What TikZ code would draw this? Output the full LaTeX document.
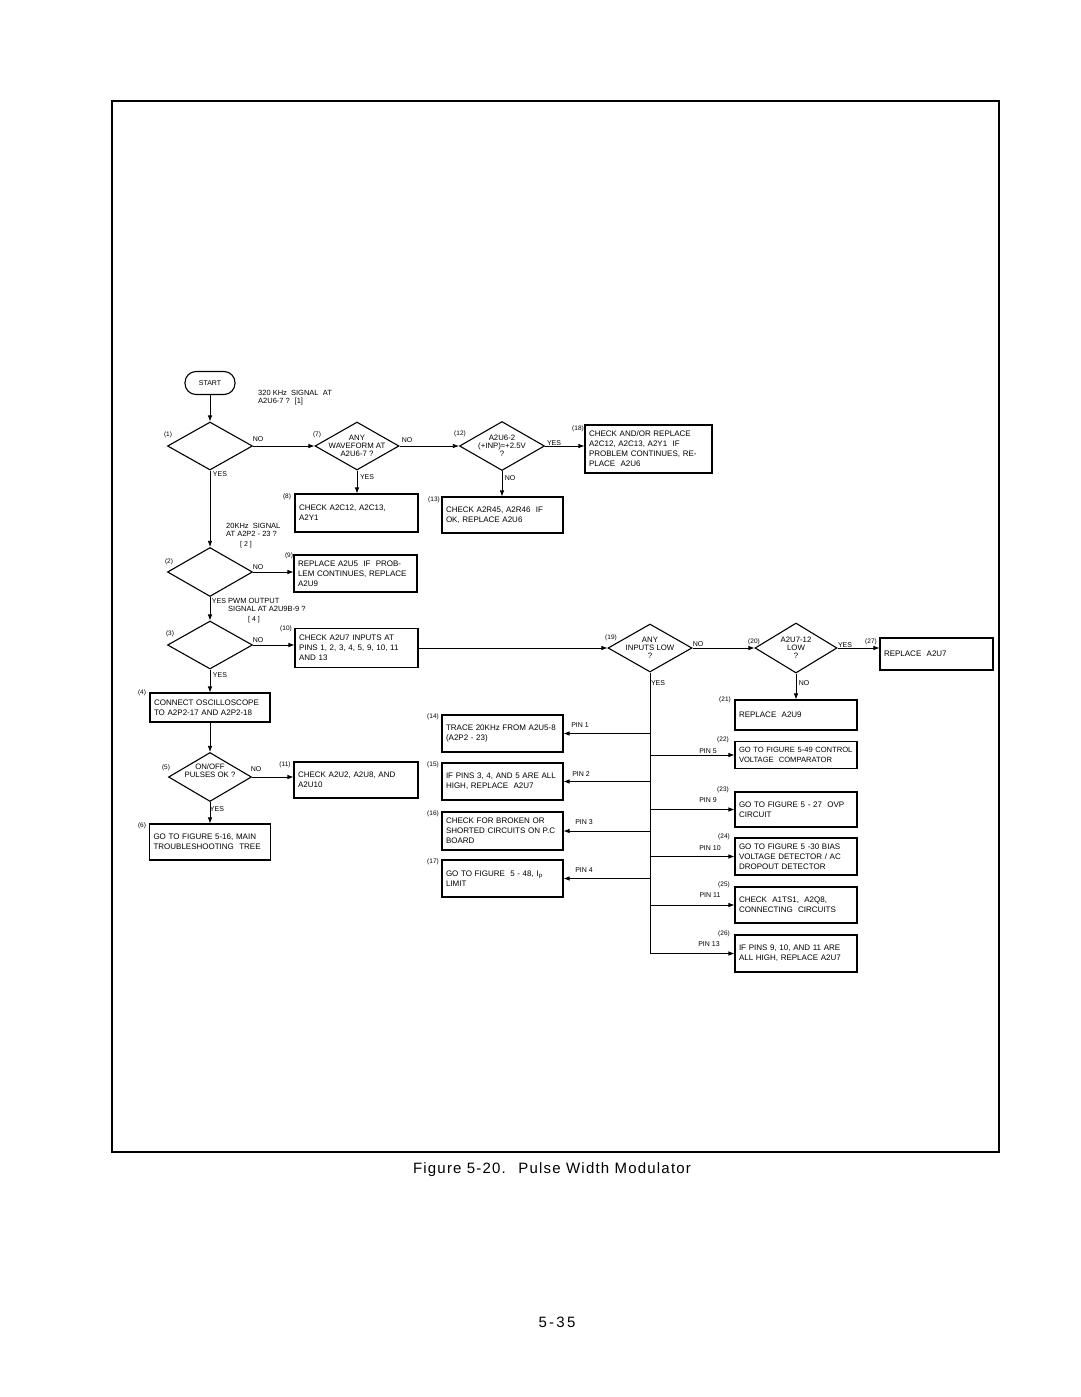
\documentclass[tikz,border=0pt]{standalone}
\usepackage{fontspec}
\setmainfont{Liberation Sans}
\usetikzlibrary{shapes.geometric,arrows.meta}
\begin{document}
\begin{tikzpicture}[x=1pt,y=-1pt,
  box/.style={draw,line width=1.1pt,inner xsep=4pt,inner ysep=2pt,align=left,font=\fontsize{8}{10}\selectfont},
  dia/.style={draw,line width=1.1pt,diamond,inner sep=0pt},
  dtxt/.style={align=center,font=\fontsize{7.8}{8}\selectfont,inner sep=0pt},
  lab/.style={font=\fontsize{7}{8}\selectfont,inner sep=0pt},
  num/.style={font=\fontsize{6.5}{7}\selectfont,inner sep=0pt},
  note/.style={font=\fontsize{7.5}{8.2}\selectfont,inner sep=0pt,align=left,anchor=west},
  conn/.style={line width=0.7pt},
  arr/.style={conn,-{Latex[length=6pt,width=4.5pt]}},
]
\useasboundingbox (0,0) rectangle (1080,1397);
\draw[line width=1.3pt] (112,101) rectangle (999,1152);

% ---------- left column ----------
\node[draw,line width=1.1pt,rounded corners=11pt,minimum width=50pt,minimum height=23pt,inner sep=0pt,font=\fontsize{7}{8}\selectfont] (start) at (210,383) {START};
\node[note] (n1) at (258,398) {320 KHz \ SIGNAL \ AT\\A2U6-7 ? \ [1]};

\node[dia,minimum width=85pt,minimum height=48pt] (d1) at (210,446) {};
\node[dia,minimum width=84pt,minimum height=48pt] (d7) at (357,446) {};
\node[dtxt] (d7t) at (d7) {ANY\\WAVEFORM AT\\A2U6-7 ?};
\node[dia,minimum width=85pt,minimum height=49pt] (d12) at (502,446) {};
\node[dtxt] (d12t) at (d12) {A2U6-2\\(+INP)≈+2.5V\\?};
\node[box,text width=119pt,minimum height=48pt] (b18) at (648.5,449) {CHECK AND/OR REPLACE\\A2C12, A2C13, A2Y1 \ IF\\PROBLEM CONTINUES, RE-\\PLACE \ A2U6};
\node[box,text width=115pt,minimum height=38pt] (b8) at (356.5,513) {CHECK A2C12, A2C13,\\A2Y1};
\node[box,text width=113pt,minimum height=36pt] (b13) at (502.5,515) {CHECK A2R45, A2R46 \ IF\\OK, REPLACE A2U6};

\node[note] (n2) at (226,530) {20KHz \ SIGNAL\\AT A2P2 - 23 ?};
\node[lab] (n2b) at (246,545) {[ 2 ]};
\node[dia,minimum width=85pt,minimum height=49pt] (d2) at (210,572) {};
\node[box,text width=115pt,minimum height=37pt] (b9) at (355.5,573.5) {REPLACE A2U5 \ IF \ PROB-\\LEM CONTINUES, REPLACE\\A2U9};

\node[note] (n4) at (228,605) {PWM OUTPUT\\SIGNAL AT A2U9B-9 ?};
\node[lab] (n4b) at (254,620) {[ 4 ]};
\node[dia,minimum width=85pt,minimum height=48pt] (d3) at (210,645) {};
\node[box,text width=115pt,minimum height=39pt] (b10) at (356.5,648) {CHECK A2U7 INPUTS AT\\PINS 1, 2, 3, 4, 5, 9, 10, 11\\AND 13};

\node[box,text width=112pt,minimum height=29pt] (b4) at (210,707.5) {CONNECT OSCILLOSCOPE\\TO A2P2-17 AND A2P2-18};
\node[dia,minimum width=83pt,minimum height=49pt] (d5) at (210,777) {};
\node[dtxt] (d5t) at (d5) {ON/OFF\\PULSES OK ?\\[ 4 ]};
\node[box,text width=116pt,minimum height=36pt] (b11) at (356,780) {CHECK A2U2, A2U8, AND\\A2U10};
\node[box,text width=113pt,minimum height=36pt] (b6) at (210,842) {GO TO FIGURE 5-16, MAIN\\TROUBLESHOOTING \ TREE};

% ---------- middle / right ----------
\node[dia,minimum width=84pt,minimum height=48pt] (d19) at (650,648) {};
\node[dtxt] (d19t) at (d19) {ANY\\INPUTS LOW\\?};
\node[dia,minimum width=82pt,minimum height=50pt] (d20) at (796,648) {};
\node[dtxt] (d20t) at (d20) {A2U7-12\\LOW\\?};
\node[box,text width=105pt,minimum height=32pt] (b27) at (936.5,654) {REPLACE \ A2U7};
\node[box,text width=114pt,minimum height=30pt] (b21) at (796,715) {REPLACE \ A2U9};

\node[box,text width=113pt,minimum height=37pt] (b14) at (502.5,733.5) {TRACE 20KHz FROM A2U5-8\\(A2P2 - 23)};
\node[box,text width=113pt,minimum height=37pt] (b15) at (502.5,781.5) {IF PINS 3, 4, AND 5 ARE ALL\\HIGH, REPLACE \ A2U7\\[9.5pt]};
\node[box,text width=113pt,minimum height=38pt] (b16) at (502.5,831) {CHECK FOR BROKEN OR\\SHORTED CIRCUITS ON P.C\\BOARD};
\node[box,text width=113pt,minimum height=37pt] (b17) at (502.5,878.5) {GO TO FIGURE \ 5 - 48, I\textsubscript{p}\\LIMIT\\[9.5pt]};

\node[box,text width=114pt,minimum height=27pt,font=\fontsize{7.6}{9.5}\selectfont] (b22) at (796,755) {GO TO FIGURE 5-49 CONTROL\\VOLTAGE \ COMPARATOR};
\node[box,text width=114pt,minimum height=35pt] (b23) at (796,809.5) {GO TO FIGURE 5 - 27 \ OVP\\CIRCUIT\\[9.5pt]};
\node[box,text width=114pt,minimum height=37pt] (b24) at (796,856.5) {GO TO FIGURE 5 -30 BIAS\\VOLTAGE DETECTOR / AC\\DROPOUT DETECTOR};
\node[box,text width=114pt,minimum height=36pt] (b25) at (796,905) {CHECK \ A1TS1, \ A2Q8,\\CONNECTING \ CIRCUITS};
\node[box,text width=114pt,minimum height=37pt] (b26) at (796,953.5) {IF PINS 9, 10, AND 11 ARE\\ALL HIGH, REPLACE A2U7};

% ---------- connectors ----------
\draw[arr] (start) -- (d1);
\draw[arr] (d1.east) -- (d7.west);
\draw[arr] (d7.east) -- (d12.west);
\draw[arr] (d12.east) -- (d12.east -| b18.west);
\draw[arr] (d7.south) -- (d7.south |- b8.north);
\draw[arr] (d12.south) -- (d12.south |- b13.north);
\draw[arr] (d1.south) -- (d2.north);
\draw[arr] (d2.east) -- (d2.east -| b9.west);
\draw[arr] (d2.south) -- (d3.north);
\draw[arr] (d3.east) -- (d3.east -| b10.west);
\draw[arr] (b10.east) -- (d19.west);
\draw[arr] (d3.south) -- (b4.north);
\draw[arr] (b4.south) -- (d5.north);
\draw[arr] (d5.east) -- (d5.east -| b11.west);
\draw[arr] (d5.south) -- (b6.north);
\draw[arr] (d19.east) -- (d20.west);
\draw[arr] (d20.east) -- (d20.east -| b27.west);
\draw[arr] (d20.south) -- (b21.north);
\draw[conn] (d19.south) -- (d19.south |- b26.west);
\draw[arr] (d19.south |- b26.west) -- (b26.west);
\draw[arr] (d19.south |- b14.east) -- (b14.east);
\draw[arr] (d19.south |- b15.east) -- (b15.east);
\draw[arr] (d19.south |- b16.east) -- (b16.east);
\draw[arr] (d19.south |- b17.east) -- (b17.east);
\draw[arr] (d19.south |- b22.west) -- (b22.west);
\draw[arr] (d19.south |- b23.west) -- (b23.west);
\draw[arr] (d19.south |- b24.west) -- (b24.west);
\draw[arr] (d19.south |- b25.west) -- (b25.west);

% ---------- YES / NO labels ----------
\node[lab] (y1) at (220,474) {YES};
\node[lab] (no1) at (258,439) {NO};
\node[lab] (no7) at (407,440) {NO};
\node[lab] (y7) at (367,477) {YES};
\node[lab] (y12) at (554,443) {YES};
\node[lab] (no12) at (510,478) {NO};
\node[lab] (no2) at (258,567) {NO};
\node[lab] (y2) at (219,601) {YES};
\node[lab] (no3) at (258,640) {NO};
\node[lab] (y3) at (220,675) {YES};
\node[lab] (no5) at (256,769) {NO};
\node[lab] (y5) at (217,809) {YES};
\node[lab] (no19) at (698,644) {NO};
\node[lab] (y19) at (658,683) {YES};
\node[lab] (y20) at (845,645) {YES};
\node[lab] (no20) at (804,683) {NO};

% ---------- PIN labels ----------
\node[lab] (p1) at (580,725) {PIN 1};
\node[lab] (p2) at (581,774) {PIN 2};
\node[lab] (p3) at (584,822) {PIN 3};
\node[lab] (p4) at (584,870) {PIN 4};
\node[lab] (p5) at (708,751) {PIN 5};
\node[lab] (p9) at (708,800) {PIN 9};
\node[lab] (p10) at (710,848) {PIN 10};
\node[lab] (p11) at (710,895) {PIN 11};
\node[lab] (p13) at (709,944) {PIN 13};

% ---------- step numbers ----------
\node[num] (s1) at (168,435) {(1)};
\node[num] (s7) at (317,435) {(7)};
\node[num] (s12) at (460,434) {(12)};
\node[num] (s18) at (578,429) {(18)};
\node[num] (s8) at (287,497) {(8)};
\node[num] (s13) at (434,500) {(13)};
\node[num] (s2) at (169,562) {(2)};
\node[num] (s9) at (289,556) {(9)};
\node[num] (s3) at (170,634) {(3)};
\node[num] (s10) at (286,629) {(10)};
\node[num] (s4) at (142,693) {(4)};
\node[num] (s5) at (166,768) {(5)};
\node[num] (s11) at (285,765) {(11)};
\node[num] (s6) at (142,826) {(6)};
\node[num] (s14) at (433,717) {(14)};
\node[num] (s15) at (433,765) {(15)};
\node[num] (s16) at (433,814) {(16)};
\node[num] (s17) at (433,862) {(17)};
\node[num] (s19) at (611,638) {(19)};
\node[num] (s20) at (754,642) {(20)};
\node[num] (s27) at (871,642) {(27)};
\node[num] (s21) at (725,700) {(21)};
\node[num] (s22) at (723,740) {(22)};
\node[num] (s23) at (723,790) {(23)};
\node[num] (s24) at (724,837) {(24)};
\node[num] (s25) at (724,885) {(25)};
\node[num] (s26) at (724,934) {(26)};

% ---------- caption & page number ----------
\node[font=\fontsize{15}{18}\selectfont\addfontfeature{LetterSpace=8},inner sep=0pt] (cap) at (552,1170) {Figure 5-20. \ Pulse Width Modulator};
\node[font=\fontsize{15}{18}\selectfont\addfontfeature{LetterSpace=15},inner sep=0pt] (pg) at (557,1322) {5-35};
\end{tikzpicture}
\end{document}
